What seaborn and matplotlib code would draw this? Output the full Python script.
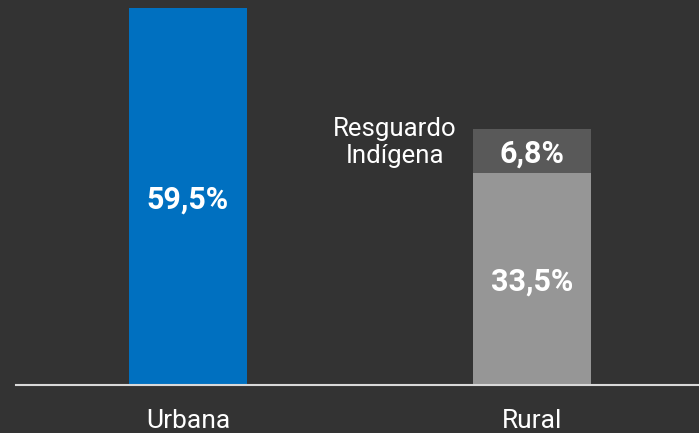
import pandas as pd
import matplotlib.pyplot as plt
import seaborn as sns

# Values (percent)
categories = ['Urbana', 'Rural']
urbana = 59.5
rural_base = 33.5
rural_resguardo = 6.8
resguardo_label = 'Resguardo\nIndígena'

bg = '#333333'
blue = '#0070c0'
light_gray = '#969696'
dark_gray = '#595959'

sns.set_theme(style='white')
plt.rcParams['font.family'] = ['Roboto', 'DejaVu Sans']

# Full bar heights (rural = base + resguardo on top)
totals = pd.DataFrame({'zona': categories,
                       'pct': [urbana, rural_base + rural_resguardo]})
base = pd.DataFrame({'zona': ['Rural'], 'pct': [rural_base]})

fig = plt.figure(figsize=(6.99, 4.33), dpi=100, facecolor=bg)
ax = fig.add_axes([16 / 699, 48.5 / 433, 683 / 699, 376.5 / 433])
ax.set_facecolor(bg)

sns.barplot(data=totals, x='zona', y='pct', order=categories, hue='zona',
            palette=[blue, dark_gray], width=0.343, saturation=1,
            legend=False, linewidth=0, edgecolor='none', ax=ax)
sns.barplot(data=base, x='zona', y='pct', order=categories, color=light_gray,
            width=0.343, saturation=1, linewidth=0, edgecolor='none', ax=ax)

ax.set_xlim(-0.5, 1.4855)
ax.set_ylim(0, urbana)

# value labels centred in each segment
def fmt(v):
    return f'{v:.1f}%'.replace('.', ',')

labels = [(0, urbana / 2, urbana),
          (1, rural_base / 2, rural_base),
          (1, rural_base + rural_resguardo / 2, rural_resguardo)]
for x, y, v in labels:
    ax.annotate(fmt(v), (x, y), xytext=(0, -3), textcoords='offset pixels',
                ha='center', va='center', color='white', fontsize=22,
                fontweight='bold')

ax.text(0.602, 38.3, resguardo_label, ha='center', va='center',
        color='white', fontsize=18.5, linespacing=1.15)

ax.set_xlabel('')
ax.set_ylabel('')
ax.set_yticks([])
ax.tick_params(axis='x', colors='white', labelsize=19, length=0, pad=18)
for s in ['top', 'right', 'left']:
    ax.spines[s].set_visible(False)
ax.spines['bottom'].set_color('#d9d9d9')
ax.spines['bottom'].set_linewidth(1.5)

fig.savefig('out.png', dpi=100, facecolor=bg)
